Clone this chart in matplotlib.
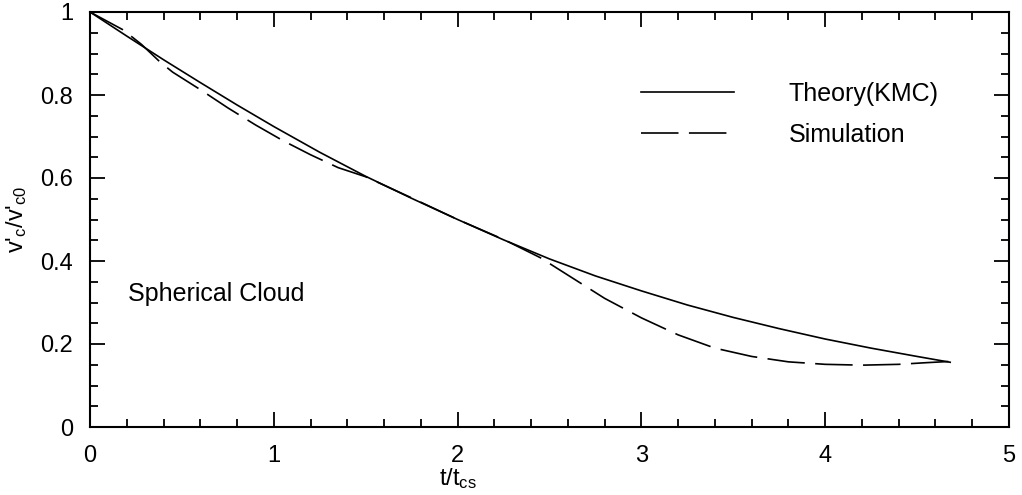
import matplotlib
matplotlib.use('Agg')
import matplotlib.pyplot as plt
from matplotlib.ticker import MultipleLocator, FormatStrFormatter

plt.rcParams['font.family'] = ['Liberation Sans', 'DejaVu Sans']
plt.rcParams['mathtext.fontset'] = 'custom'
plt.rcParams['mathtext.rm'] = 'Liberation Sans'
plt.rcParams['mathtext.it'] = 'Liberation Sans'
plt.rcParams['lines.scale_dashes'] = False

# theory (KMC), solid
theory_t = [0, 0.2, 0.4, 0.6, 0.8, 1.0, 1.25, 1.5, 1.75, 2.0, 2.25, 2.5,
            2.75, 3.0, 3.25, 3.5, 3.75, 4.0, 4.25, 4.5, 4.68]
theory_v = [1.0, 0.942, 0.885, 0.830, 0.776, 0.724, 0.662, 0.604, 0.551,
            0.500, 0.451, 0.405, 0.364, 0.328, 0.294, 0.264, 0.237, 0.212,
            0.190, 0.170, 0.156]

# simulation, dashed
sim_t = [0, 0.18, 0.28, 0.38, 0.45, 0.6, 0.75, 0.9, 1.05, 1.2, 1.35, 1.5,
         1.75, 2.0, 2.25, 2.45, 2.6, 2.8, 3.0, 3.2, 3.4, 3.6, 3.8, 4.0,
         4.2, 4.4, 4.55, 4.68]
sim_v = [1.0, 0.957, 0.922, 0.88, 0.855, 0.813, 0.769, 0.728, 0.69, 0.656,
         0.625, 0.603, 0.552, 0.5, 0.452, 0.408, 0.366, 0.31, 0.263, 0.222,
         0.19, 0.17, 0.157, 0.151, 0.149, 0.151, 0.155, 0.158]

fig = plt.figure(figsize=(10.22, 4.95), dpi=100)
ax = fig.add_axes([90/1022, 1 - 427/495, 919/1022, 415/495])

ax.plot(theory_t, theory_v, 'k-', lw=1.2, label='Theory(KMC)')
ax.plot(sim_t, sim_v, 'k', lw=1.2, dashes=(27, 7.5), label='Simulation')

ax.set_xlim(0, 5)
ax.set_ylim(0, 1)
ax.xaxis.set_major_locator(MultipleLocator(1))
ax.xaxis.set_minor_locator(MultipleLocator(0.2))
ax.yaxis.set_major_locator(MultipleLocator(0.2))
ax.yaxis.set_minor_locator(MultipleLocator(0.05))
ax.xaxis.set_major_formatter(FormatStrFormatter('%g'))
ax.yaxis.set_major_formatter(FormatStrFormatter('%g'))
ax.tick_params(which='both', direction='in', top=True, right=True,
               width=1.3, labelsize=17)
ax.tick_params(which='major', length=11)
ax.tick_params(which='minor', length=6)
ax.tick_params(axis='x', pad=13)
ax.tick_params(axis='y', pad=12)
for s in ax.spines.values():
    s.set_linewidth(1.5)

ax.set_xlabel(r"t/t$_{\mathregular{cs}}$", fontsize=17)
ax.xaxis.set_label_coords((458 - 90) / 919, -0.095)
ax.set_ylabel(r"v'$_{\mathregular{c}}$/v'$_{\mathregular{c0}}$", fontsize=17, labelpad=8)

ax.text(0.207, 0.32, 'Spherical Cloud', fontsize=18, va='center', ha='left')

ax.legend(loc='upper left', bbox_to_anchor=(0.60, 0.831), frameon=False,
          fontsize=18, handlelength=3.7, handletextpad=2.2, labelspacing=0.66,
          borderpad=0, borderaxespad=0)

fig.savefig('out.png', dpi=100)
